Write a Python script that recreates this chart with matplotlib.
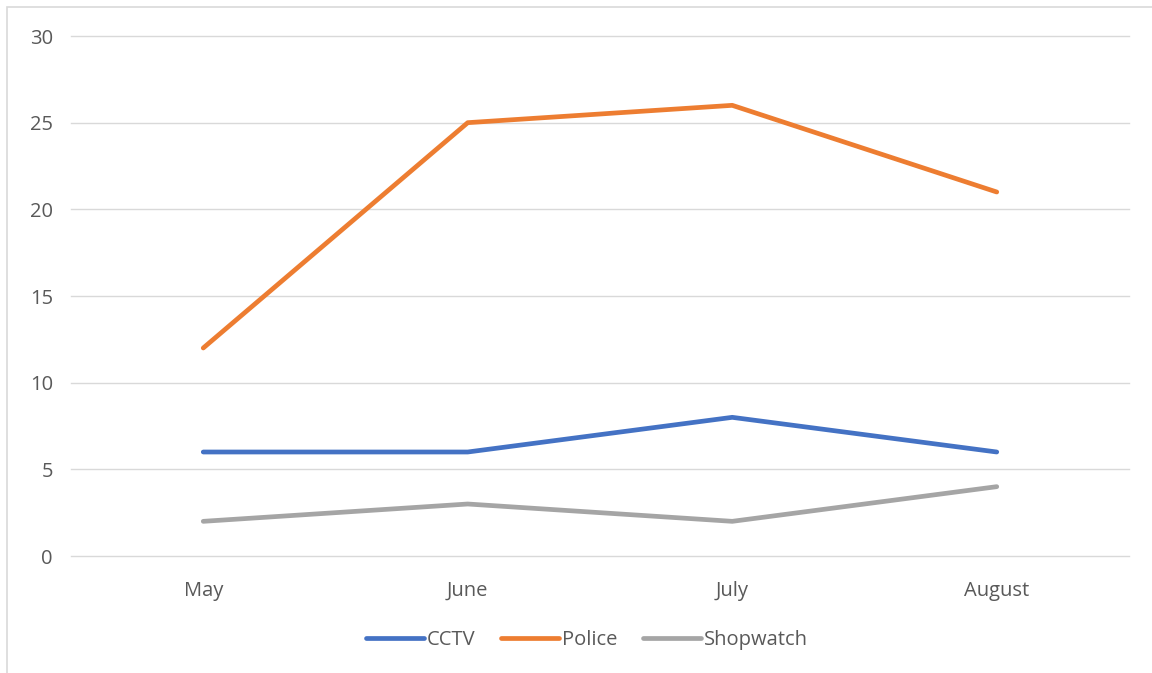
import matplotlib.pyplot as plt
from matplotlib.patches import Rectangle

plt.rcParams['font.family'] = ['Open Sans', 'DejaVu Sans']

months = ["May", "June", "July", "August"]
cctv = [6, 6, 8, 6]
police = [12, 25, 26, 21]
shopwatch = [2, 3, 2, 4]

W, H = 1152, 673
fig = plt.figure(figsize=(W / 100, H / 100), dpi=100)
ax = fig.add_axes([71 / W, 1 - 556 / H, (1129 - 71) / W, (556 - 36) / H])

# chart border (only left/top visible in the reference)
fig.patches.append(Rectangle((7 / W, -0.1), 1.2, 1 - 7 / H + 0.1,
                             transform=fig.transFigure, fill=False,
                             edgecolor='#d9d9d9', linewidth=1.2))

x = range(len(months))
ax.plot(x, cctv, color='#4472c4', lw=3.4, label='CCTV', solid_capstyle='round')
ax.plot(x, police, color='#ed7d31', lw=3.4, label='Police', solid_capstyle='round')
ax.plot(x, shopwatch, color='#a5a5a5', lw=3.4, label='Shopwatch', solid_capstyle='round')

ax.set_xlim(-0.5, 3.5)
ax.set_ylim(0, 30)
ax.set_yticks(range(0, 31, 5))
ax.set_xticks(list(x))
ax.set_xticklabels(months)
ax.grid(axis='y', color='#d9d9d9', lw=1)
for gl in ax.get_ygridlines():
    gl.set_clip_on(False)
ax.set_axisbelow(True)
for s in ax.spines.values():
    s.set_visible(False)
ax.tick_params(length=0, labelsize=14.5, labelcolor='#595959')
ax.tick_params(axis='y', pad=13)
ax.tick_params(axis='x', pad=18)

leg = fig.legend(loc='center', bbox_to_anchor=(587 / W, 1 - 640 / H), ncol=3,
                 frameon=False, fontsize=14.5, handlelength=2.85, handletextpad=0.15,
                 columnspacing=1.3)
for t in leg.get_texts():
    t.set_color('#595959')

fig.savefig('out.png', dpi=100)
